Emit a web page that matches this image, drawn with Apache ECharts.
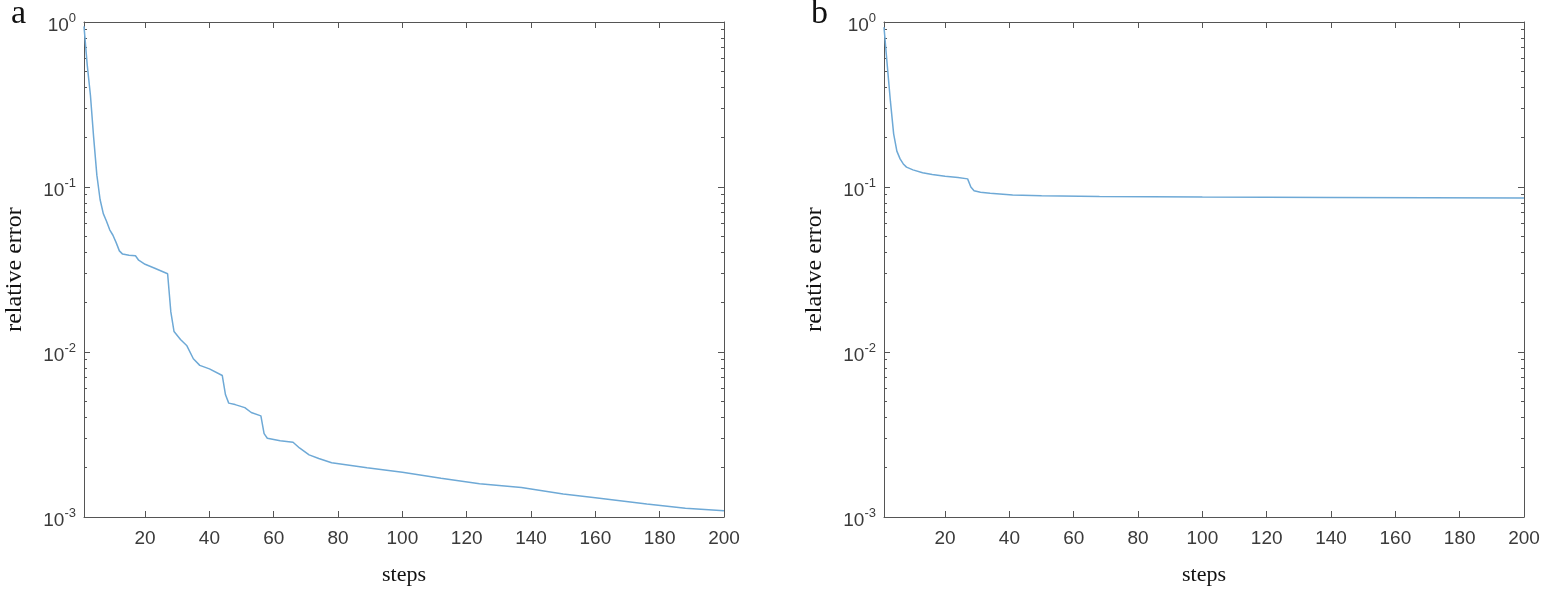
<!DOCTYPE html>
<html>
<head>
<meta charset="utf-8">
<script src="https://cdn.jsdelivr.net/npm/echarts@6/dist/echarts.min.js"></script>
<style>
    html, body { margin: 0; padding: 0; background: #fff; }
    #chart { width: 1549px; height: 591px; }
</style>
</head>
<body>
<div id="chart"></div>
<script>
// panel a
const stepsA = [1, 2, 3, 4, 5, 6, 7, 8, 9, 10, 11, 12, 13, 15, 17, 18, 20, 23, 27, 28, 29, 31, 33, 35, 37, 40, 44, 45, 46, 48, 51, 53, 56, 57, 58, 62, 66, 68, 71, 74, 78, 89, 100, 112, 124, 137, 150, 160, 176, 188, 200];
const errorA = [0.94, 0.55, 0.36, 0.2, 0.118, 0.084, 0.069, 0.062, 0.055, 0.051, 0.046, 0.041, 0.0392, 0.0386, 0.0383, 0.036, 0.034, 0.0322, 0.0298, 0.0175, 0.0133, 0.0119, 0.0109, 0.0091, 0.0083, 0.0079, 0.0072, 0.0055, 0.0049, 0.0048, 0.0046, 0.0043, 0.0041, 0.0032, 0.003, 0.0029, 0.00284, 0.00262, 0.00238, 0.00226, 0.00213, 0.00199, 0.00187, 0.00172, 0.00159, 0.00151, 0.00138, 0.00131, 0.0012, 0.00113, 0.00109];

// panel b
const stepsB = [1, 2, 3, 4, 5, 6, 7, 8, 10, 13, 16, 20, 24, 27, 28, 29, 31, 34, 41, 50, 68, 100, 140, 170, 200];
const errorB = [0.93, 0.55, 0.33, 0.21, 0.165, 0.148, 0.138, 0.132, 0.127, 0.122, 0.119, 0.116, 0.114, 0.112, 0.1, 0.095, 0.093, 0.0915, 0.0893, 0.0885, 0.0875, 0.087, 0.0865, 0.0862, 0.0857];

const xTicks = [20, 40, 60, 80, 100, 120, 140, 160, 180, 200];
const panelNames = ['a', 'b'];

const axisColor = '#555555';
const labelColor = '#3a3a3a';
const lineColor = '#6ea9d6';

function zip(xs, ys) {
    return xs.map((x, i) => [x, ys[i]]);
}

function xAxisFun(gridIndex, position) {
    const bottom = position === 'bottom';
    return {
        type: 'value',
        gridIndex: gridIndex,
        position: position,
        min: 1,
        max: 200,
        name: bottom ? 'steps' : '',
        nameLocation: 'middle',
        nameGap: 47,
        nameTextStyle: {
            fontFamily: 'Liberation Serif',
            fontSize: 22,
            color: '#111'
        },
        axisLine: { show: true, onZero: false, lineStyle: { color: axisColor, width: 1 } },
        axisTick: {
            show: true,
            inside: true,
            length: 6,
            customValues: xTicks,
            lineStyle: { color: axisColor }
        },
        axisLabel: {
            show: bottom,
            customValues: xTicks,
            margin: 12,
            fontFamily: 'Liberation Sans',
            fontSize: 19,
            color: labelColor
        },
        splitLine: { show: false }
    };
}

function yAxisFun(gridIndex, position) {
    const left = position === 'left';
    return {
        type: 'log',
        logBase: 10,
        gridIndex: gridIndex,
        position: position,
        min: 0.001,
        max: 1,
        name: left ? 'relative error' : '',
        nameLocation: 'middle',
        nameGap: 57,
        nameTextStyle: {
            fontFamily: 'Liberation Serif',
            fontSize: 24,
            color: '#111'
        },
        axisLine: { show: true, lineStyle: { color: axisColor, width: 1 } },
        axisTick: { show: true, inside: true, length: 6, lineStyle: { color: axisColor } },
        minorTick: { show: true, splitNumber: 9, length: 3, lineStyle: { color: axisColor } },
        axisLabel: {
            show: left,
            margin: 8,
            padding: [8, 0, 0, 0],
            color: labelColor,
            formatter: function(v) {
                return '{b|10}{s|' + Math.round(Math.log10(v)) + '}';
            },
            rich: {
                b: {
                    fontFamily: 'Liberation Sans',
                    fontSize: 19,
                    lineHeight: 28,
                    verticalAlign: 'middle',
                    color: labelColor
                },
                s: {
                    fontFamily: 'Liberation Sans',
                    fontSize: 13,
                    lineHeight: 13,
                    verticalAlign: 'top',
                    color: labelColor
                }
            }
        },
        splitLine: { show: false },
        minorSplitLine: { show: false }
    };
}

const eChart = echarts.init(document.getElementById('chart'));
const option = {
    animation: false,
    backgroundColor: '#ffffff',
    title: panelNames.map((t, i) => ({
        text: t,
        left: i === 0 ? 6 : 806,
        top: -8,
        textStyle: {
            fontFamily: 'Liberation Serif',
            fontSize: 34,
            fontWeight: 'normal',
            color: '#111'
        }
    })),
    grid: [
        { left: 84, top: 22, width: 640, height: 506 },
        { left: 884, top: 22, width: 640, height: 506 }
    ],
    xAxis: [
        xAxisFun(0, 'bottom'),
        xAxisFun(0, 'top'),
        xAxisFun(1, 'bottom'),
        xAxisFun(1, 'top')
    ],
    yAxis: [
        yAxisFun(0, 'left'),
        yAxisFun(0, 'right'),
        yAxisFun(1, 'left'),
        yAxisFun(1, 'right')
    ],
    series: [
        {
            type: 'line',
            xAxisIndex: 0,
            yAxisIndex: 0,
            showSymbol: false,
            lineStyle: { color: lineColor, width: 1.5 },
            data: zip(stepsA, errorA)
        },
        {
            type: 'line',
            xAxisIndex: 2,
            yAxisIndex: 2,
            showSymbol: false,
            lineStyle: { color: lineColor, width: 1.5 },
            data: zip(stepsB, errorB)
        }
    ]
};
eChart.setOption(option);
</script>
</body>
</html>
